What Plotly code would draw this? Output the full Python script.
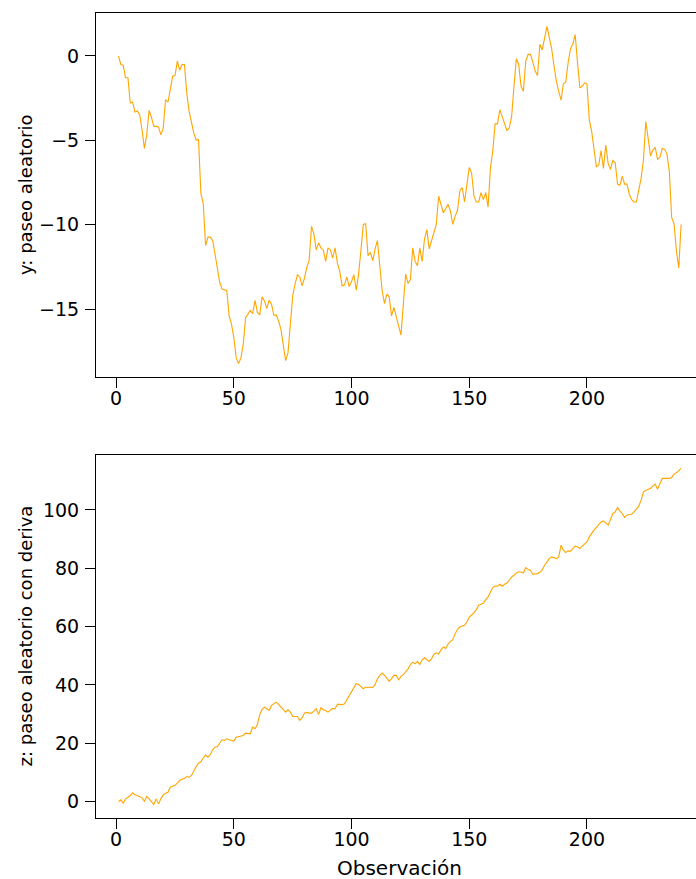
import plotly.graph_objects as go

# Observation index shared by both series
obs = list(range(1, 241))

# y: pure random walk
y_walk = [
    0.00, -0.51, -0.55, -1.30, -1.30, -2.79, -2.73, -3.33, -3.27, -3.49,
    -4.38, -5.48, -4.68, -3.23, -3.65, -4.18, -4.18, -4.22, -4.68, -4.28,
    -2.59, -2.75, -2.00, -1.20, -1.17, -0.31, -0.85, -0.51, -0.51, -2.20,
    -3.29, -3.98, -4.58, -4.98, -4.98, -8.16, -8.75, -11.24, -10.74, -10.74,
    -10.94, -11.74, -12.53, -13.43, -13.82, -13.88, -13.90, -15.41, -15.91, -16.70,
    -17.90, -18.23, -17.90, -17.10, -15.50, -15.30, -15.08, -15.27, -14.48, -15.20,
    -15.35, -14.28, -14.52, -14.96, -14.48, -14.72, -15.37, -15.35, -15.71, -16.21,
    -17.10, -18.06, -17.60, -15.71, -14.22, -13.52, -12.97, -13.10, -13.63, -13.17,
    -12.53, -12.10, -10.10, -10.55, -11.50, -11.08, -11.38, -11.50, -12.18, -11.38,
    -11.50, -11.98, -11.38, -12.30, -12.77, -13.63, -13.57, -13.10, -13.67, -13.37,
    -12.97, -13.88, -12.93, -11.50, -9.99, -9.95, -11.84, -11.64, -12.14, -11.44,
    -10.94, -12.43, -13.92, -14.68, -14.12, -14.28, -15.41, -14.90, -15.51, -16.07,
    -16.55, -14.72, -12.93, -13.49, -13.25, -11.38, -12.18, -12.43, -11.38, -12.18,
    -10.84, -10.30, -11.44, -10.94, -10.39, -9.99, -8.32, -8.86, -9.31, -9.06,
    -8.80, -9.19, -9.99, -9.51, -9.15, -8.00, -7.80, -8.66, -7.76, -6.61,
    -6.93, -8.30, -8.66, -8.66, -8.10, -8.52, -8.10, -8.96, -6.67, -5.62,
    -4.03, -4.03, -3.19, -3.59, -3.98, -4.42, -4.28, -3.59, -1.80, -0.17,
    -0.51, -1.80, -2.10, -0.31, 0.09, 0.09, -0.37, -0.90, -1.16, 0.69,
    0.35, 0.98, 1.74, 1.08, 0.43, -0.57, -1.50, -2.10, -2.63, -1.64,
    -1.56, -0.41, 0.43, 0.69, 1.26, -0.41, -1.90, -1.80, -1.60, -1.66,
    -3.79, -4.48, -5.48, -6.57, -6.47, -5.62, -6.67, -5.28, -6.37, -6.73,
    -6.20, -6.33, -7.60, -7.66, -7.13, -7.60, -7.60, -8.20, -8.52, -8.66,
    -8.66, -7.86, -7.26, -6.17, -3.89, -4.88, -5.93, -5.58, -5.42, -6.13,
    -6.01, -5.48, -5.54, -5.82, -6.87, -9.59, -9.95, -11.54, -12.57, -9.99,
]

# z: random walk with drift
z_drift = [
    0.00, 0.57, -0.57, 0.92, 1.49, 2.06, 2.98, 2.29, 2.06, 1.72,
    1.26, 0.11, 1.72, 0.92, -0.23, -1.03, 0.92, -0.80, 0.92, 2.29,
    2.86, 3.20, 4.92, 5.26, 5.61, 6.29, 7.21, 7.67, 7.90, 8.58,
    8.35, 8.93, 10.64, 12.01, 13.16, 13.62, 14.99, 15.91, 15.22, 16.13,
    17.74, 18.65, 18.88, 20.03, 21.17, 20.94, 21.51, 21.17, 20.94, 20.71,
    22.09, 22.31, 22.31, 22.66, 23.45, 23.23, 23.23, 25.50, 24.94, 26.43,
    29.87, 31.58, 32.37, 31.81, 31.24, 32.96, 33.53, 34.09, 33.30, 32.37,
    31.47, 30.66, 31.47, 30.66, 29.18, 29.18, 29.18, 27.81, 28.73, 30.32,
    30.55, 30.32, 30.32, 31.01, 31.81, 29.87, 32.15, 31.47, 31.24, 30.66,
    31.47, 31.92, 31.81, 33.30, 33.30, 33.20, 33.53, 34.90, 36.39, 37.53,
    38.69, 40.40, 40.17, 39.48, 38.69, 39.25, 39.02, 39.25, 39.02, 40.17,
    42.12, 43.25, 44.05, 43.25, 42.12, 41.30, 42.12, 43.25, 43.25, 41.76,
    42.91, 43.50, 44.50, 45.50, 47.00, 47.80, 47.20, 48.00, 47.00, 48.50,
    49.30, 48.80, 48.00, 49.00, 50.50, 51.00, 50.60, 52.00, 53.00, 52.50,
    54.00, 54.80, 55.50, 57.57, 59.05, 59.84, 60.08, 60.42, 61.56, 63.27,
    63.96, 64.64, 65.80, 67.28, 67.63, 68.08, 69.24, 70.14, 71.85, 73.36,
    73.91, 73.80, 74.49, 73.80, 74.49, 74.94, 75.87, 77.00, 77.58, 78.37,
    78.72, 78.72, 78.37, 80.23, 79.54, 79.30, 77.93, 77.93, 78.15, 78.60,
    79.40, 81.00, 82.15, 83.30, 83.87, 83.64, 83.30, 83.87, 87.88, 86.17,
    85.37, 85.94, 85.83, 86.74, 87.54, 87.31, 86.74, 87.54, 88.23, 89.02,
    90.73, 92.11, 93.03, 93.96, 95.09, 95.88, 96.22, 95.54, 94.75, 96.70,
    98.76, 99.31, 100.82, 99.66, 98.76, 97.39, 98.18, 98.42, 98.52, 99.31,
    100.48, 101.27, 103.33, 106.18, 106.76, 107.00, 107.35, 108.14, 108.82, 107.10,
    108.82, 110.78, 110.78, 110.78, 110.78, 111.12, 112.26, 112.70, 113.39, 114.20,
]

x_ticks = [0, 50, 100, 150, 200]
y_ticks = [-15, -10, -5, 0]
z_ticks = [0, 20, 40, 60, 80, 100]

y_title = "y: paseo aleatorio"
z_title = "z: paseo aleatorio con deriva"
x_title = "Observación"

LINE_COLOR = "#FFA500"
FONT = dict(family="DejaVu Sans", size=18, color="black")
TICK_FONT = dict(family="DejaVu Sans", size=19, color="black")
XTITLE_FONT = dict(family="DejaVu Sans", size=20, color="black")


def padded(values, frac=0.04):
    lo, hi = min(values), max(values)
    pad = frac * (hi - lo)
    return [lo - pad, hi + pad]


W, H = 696, 879
left, right, top, bottom = 96, 0, 13, 61
plot_w = W - left - right
plot_h = H - top - bottom

# x scale: extended range like base graphics; right end runs past the page edge
x_lo = padded(obs)[0]
px_per_unit = 2.354
x_range = [x_lo, x_lo + plot_w / px_per_unit]

# vertical layout of the two panels (pixels from top of page)
top_panel = (13, 377)
bot_panel = (455, 818)


def frac(py):
    return (H - bottom - py) / plot_h


fig = go.Figure()
fig.add_trace(go.Scatter(x=obs, y=y_walk, mode="lines",
                         line=dict(color=LINE_COLOR, width=1.1),
                         xaxis="x", yaxis="y", hoverinfo="skip"))
fig.add_trace(go.Scatter(x=obs, y=z_drift, mode="lines",
                         line=dict(color=LINE_COLOR, width=1.1),
                         xaxis="x2", yaxis="y2", hoverinfo="skip"))

axis_common = dict(
    showgrid=False, zeroline=False, showline=True, linecolor="black",
    linewidth=1, ticks="outside", ticklen=10, tickwidth=1, tickcolor="black",
    tickfont=TICK_FONT,
)

fig.update_layout(
    width=W, height=H,
    margin=dict(l=left, r=right, t=top, b=bottom),
    paper_bgcolor="white", plot_bgcolor="white",
    showlegend=False,
    font=FONT,
    xaxis=dict(domain=[0, 1], anchor="y", range=x_range, tickvals=x_ticks,
               mirror=True, ticklabelstandoff=-6, **axis_common),
    yaxis=dict(domain=[frac(top_panel[1]), frac(top_panel[0])], anchor="x",
               range=padded(y_walk), tickvals=y_ticks, ticklabelstandoff=2,
               **axis_common),
    xaxis2=dict(domain=[0, 1], anchor="y2", range=x_range, tickvals=x_ticks,
                mirror=True, ticklabelstandoff=-6, **axis_common),
    yaxis2=dict(domain=[frac(bot_panel[1]), frac(bot_panel[0])], anchor="x2",
                range=padded(z_drift), tickvals=z_ticks, ticklabelstandoff=2,
                **axis_common),
)

# axis titles placed as annotations
x_center_px = left + (padded(obs)[1] - x_lo) * px_per_unit / 2
fig.add_annotation(text=y_title, xref="paper", yref="paper",
                   x=0, xshift=25 - left, xanchor="center",
                   y=(frac(top_panel[0]) + frac(top_panel[1])) / 2,
                   yanchor="middle", textangle=-90, showarrow=False, font=FONT)
fig.add_annotation(text=z_title, xref="paper", yref="paper",
                   x=0, xshift=25 - left, xanchor="center",
                   y=(frac(bot_panel[0]) + frac(bot_panel[1])) / 2,
                   yanchor="middle", textangle=-90, showarrow=False, font=FONT)
fig.add_annotation(text=x_title, xref="paper", yref="paper",
                   x=(x_center_px - left) / plot_w, xanchor="center",
                   y=0, yshift=-(868 - (H - bottom)), yanchor="middle",
                   showarrow=False, font=XTITLE_FONT)

fig.write_html("out.html")
